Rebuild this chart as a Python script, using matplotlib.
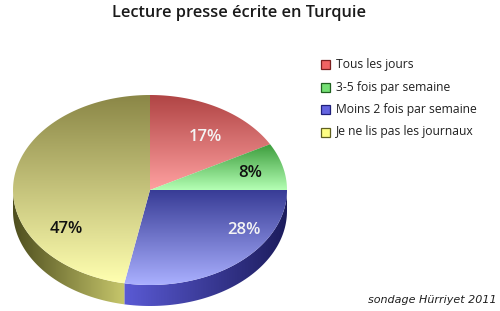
import numpy as np
import matplotlib
matplotlib.use("Agg")
import matplotlib.pyplot as plt
from matplotlib.patches import Polygon, Rectangle
from matplotlib.colors import to_rgb

# ---- data ----
categories = ["Tous les jours", "3-5 fois par semaine",
              "Moins 2 fois par semaine", "Je ne lis pas les journaux"]
values = [17, 8, 28, 47]
labels = ["17%", "8%", "28%", "47%"]
title = "Lecture presse écrite en Turquie"
source = "sondage Hürriyet 2011"

# ---- styles ----
top_dark = ["#b04444", "#3c9c3c", "#383c96", "#8a8646"]
top_light = ["#ffa0a0", "#b4ffb4", "#aab0ff", "#ffffb0"]
side_dark = ["#6a2020", "#1e5a1e", "#1c1c5c", "#4e4e1e"]
side_light = ["#d06060", "#60c060", "#5a5ad4", "#c8c86c"]
legend_fill = ["#f06464", "#74e074", "#6464e0", "#ffff84"]
legend_edge = ["#7a2020", "#206020", "#20207a", "#606020"]
label_colors = ["#f4f4f4", "#101010", "#f4f4f4", "#101010"]
label_pos = [(205, 137), (250, 173), (244, 230), (66, 229)]

cx, cy, rx, ry, depth = 150.0, 190.0, 137.0, 95.0, 21.0

fig = plt.figure(figsize=(5.0, 3.11), dpi=100)
ax = fig.add_axes([0, 0, 1, 1])
ax.set_xlim(0, 500)
ax.set_ylim(311, 0)
ax.axis("off")


def ell(a_deg, dy=0.0):
    a = np.radians(a_deg)
    return cx + rx * np.cos(a), cy - ry * np.sin(a) + dy


def grad_img(c0, c1, n=256):
    c0, c1 = np.array(to_rgb(c0)), np.array(to_rgb(c1))
    t = np.linspace(0, 1, n)[:, None]
    g = c0 * (1 - t) + c1 * t
    return g[:, None, :]


total = float(sum(values))
angles = []
start = 90.0
for v in values:
    end = start - v / total * 360.0
    angles.append((start, end))
    start = end

# ---- side faces (front half: angles between -180 and 0) ----
for i, (a0, a1) in enumerate(angles):
    lo, hi = max(min(a0, a1), -180.0), min(max(a0, a1), 0.0)
    if hi <= lo:
        continue
    th = np.linspace(lo, hi, 80)
    top = [ell(t) for t in th]
    bot = [ell(t, depth) for t in th[::-1]]
    poly = Polygon(top + bot, closed=True, facecolor="none", edgecolor="none")
    ax.add_patch(poly)
    xs = [p[0] for p in top]
    x0, x1 = min(xs), max(xs)
    peak = cx - 25
    n = 300
    xx = np.linspace(x0, x1, n)
    if i == 3:
        t = np.clip((xx - (cx - rx)) / (peak - (cx - rx)), 0, 1)
    else:
        t = np.clip(1 - (xx - peak) / ((cx + rx) - peak), 0, 1)
    c0, c1 = np.array(to_rgb(side_dark[i])), np.array(to_rgb(side_light[i]))
    img = (c0 * (1 - t[:, None]) + c1 * t[:, None])[None, :, :]
    im = ax.imshow(img, extent=(x0, x1, cy + depth + ry, cy - ry), origin="upper",
                   aspect="auto", interpolation="bilinear", zorder=2)
    im.set_clip_path(poly)

# ---- top faces ----
for i, (a0, a1) in enumerate(angles):
    th = np.linspace(a0, a1, 120)
    pts = [(cx, cy)] + [ell(t) for t in th]
    poly = Polygon(pts, closed=True, facecolor="none", edgecolor="none")
    ax.add_patch(poly)
    ys = [p[1] for p in pts]
    xs = [p[0] for p in pts]
    y0, y1 = min(ys), max(ys)
    im = ax.imshow(grad_img(top_dark[i], top_light[i]),
                   extent=(min(xs), max(xs), y1, y0), origin="upper",
                   aspect="auto", interpolation="bilinear", zorder=3)
    im.set_clip_path(poly)

ax.set_xlim(0, 500)
ax.set_ylim(311, 0)

# ---- labels ----
for i, lab in enumerate(labels):
    ax.text(label_pos[i][0], label_pos[i][1], lab, ha="center", va="center",
            fontsize=12, fontweight="semibold", family="Open Sans",
            color=label_colors[i], zorder=5)

# ---- title ----
ax.text(239, 13, title, ha="center", va="center", fontsize=11.8,
        fontweight="semibold", family="Open Sans", color="#1a1a1a")

# ---- legend ----
for i, cat in enumerate(categories):
    y = 64.5 + i * 22.5
    ax.add_patch(Rectangle((321, y - 4.5), 9, 9, facecolor=legend_fill[i],
                           edgecolor=legend_edge[i], linewidth=0.9, zorder=5))
    ax.text(336, y, cat, ha="left", va="center", fontsize=8.7,
            family="Open Sans", color="#202020")

# ---- source ----
ax.text(497, 300, source, ha="right", va="center", fontsize=8,
        style="italic", family="DejaVu Sans", color="#202020")

fig.savefig("out.png", dpi=100)
